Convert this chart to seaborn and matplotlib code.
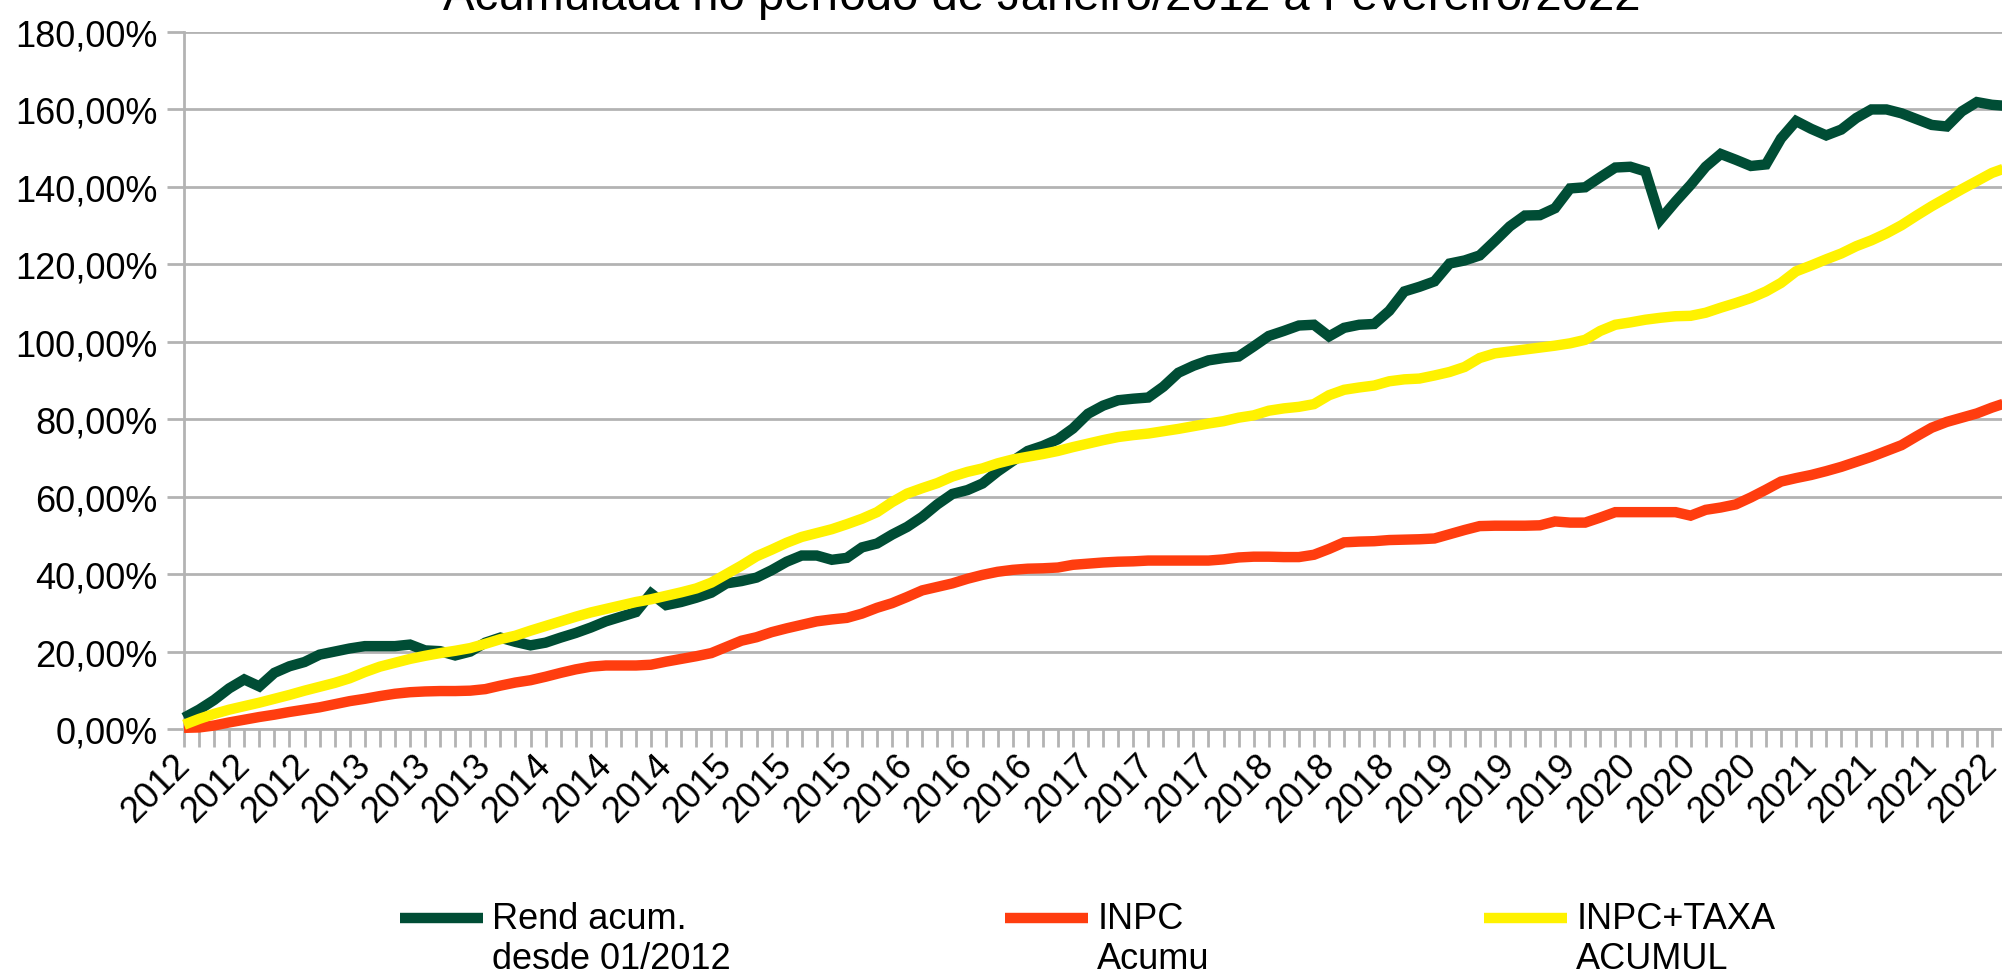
import numpy as np
import pandas as pd
import matplotlib
matplotlib.use("Agg")
import matplotlib.pyplot as plt
import seaborn as sns
from matplotlib.ticker import FuncFormatter, MultipleLocator
from matplotlib.lines import Line2D
from matplotlib.legend_handler import HandlerLine2D

# -----------------------------
# 1. Dados (mensal jan/2012 a fev/2022)
# -----------------------------
rend_acum = [
    2.9, 5.0, 7.5, 10.5, 12.8, 11.0, 14.5, 16.2, 17.3, 19.2, 20.0, 20.8,
    21.4, 21.4, 21.4, 21.8, 20.3, 20.1, 19.0, 20.0, 22.3, 23.6, 22.5, 21.6,
    22.3, 23.6, 24.8, 26.2, 27.8, 29.0, 30.2, 35.0, 32.0, 32.8, 33.9, 35.2,
    37.6, 38.2, 39.1, 41.0, 43.2, 44.8, 44.8, 43.7, 44.2, 46.9, 47.9, 50.2,
    52.2, 54.8, 58.0, 60.7, 61.7, 63.4, 66.5, 69.2, 71.8, 73.1, 74.8, 77.6,
    81.4, 83.5, 84.9, 85.3, 85.6, 88.4, 92.0, 93.8, 95.2, 95.8, 96.2, 98.8,
    101.5, 102.8, 104.2, 104.4, 101.4, 103.6, 104.4, 104.6, 108.0, 113.0, 114.2, 115.6,
    120.2, 121.0, 122.3, 126.0, 129.8, 132.6, 132.7, 134.5, 139.6, 139.9, 142.5, 145.0,
    145.2, 144.0, 131.6, 136.2, 140.5, 145.2, 148.5, 147.0, 145.4, 145.8, 152.5, 157.0,
    155.0, 153.3, 154.8, 157.8, 160.0, 160.0, 159.0, 157.5, 156.0, 155.6, 159.5, 161.9,
    161.2, 160.9,
]

inpc_acum = [
    0.3, 0.4, 0.9, 1.7, 2.4, 3.1, 3.7, 4.4, 5.0, 5.6, 6.4, 7.2,
    7.8, 8.5, 9.1, 9.5, 9.7, 9.8, 9.8, 9.9, 10.3, 11.2, 12.0, 12.6,
    13.5, 14.5, 15.4, 16.1, 16.4, 16.4, 16.4, 16.6, 17.4, 18.1, 18.8, 19.6,
    21.2, 22.8, 23.7, 25.0, 26.0, 26.9, 27.8, 28.3, 28.7, 29.8, 31.3, 32.5,
    34.1, 35.8, 36.7, 37.6, 38.8, 39.8, 40.6, 41.1, 41.4, 41.5, 41.7, 42.4,
    42.7, 43.0, 43.2, 43.3, 43.5, 43.5, 43.5, 43.5, 43.5, 43.8, 44.3, 44.5,
    44.5, 44.4, 44.4, 45.0, 46.5, 48.2, 48.4, 48.5, 48.8, 48.9, 49.0, 49.2,
    50.3, 51.4, 52.4, 52.5, 52.5, 52.5, 52.6, 53.6, 53.3, 53.3, 54.6, 56.0,
    56.0, 56.0, 56.0, 56.0, 55.1, 56.6, 57.2, 58.0, 59.8, 61.8, 63.9, 64.8,
    65.6, 66.6, 67.7, 69.0, 70.3, 71.8, 73.3, 75.6, 77.8, 79.3, 80.4, 81.5,
    83.0, 84.3,
]

inpc_taxa = [
    1.1, 2.6, 3.9, 5.0, 5.9, 6.8, 7.8, 8.8, 9.9, 10.9, 11.9, 13.1,
    14.7, 16.1, 17.1, 18.1, 18.9, 19.6, 20.2, 20.9, 22.0, 23.2, 24.1, 25.4,
    26.6, 27.8, 29.0, 30.1, 31.0, 31.9, 32.8, 33.5, 34.4, 35.3, 36.3, 37.8,
    40.0, 42.2, 44.6, 46.3, 48.1, 49.6, 50.6, 51.6, 52.9, 54.3, 56.0, 58.6,
    60.8, 62.2, 63.5, 65.2, 66.4, 67.3, 68.6, 69.6, 70.3, 71.0, 71.8, 72.8,
    73.7, 74.6, 75.4, 75.9, 76.3, 76.9, 77.5, 78.2, 78.9, 79.5, 80.4, 81.0,
    82.2, 82.8, 83.2, 83.9, 86.2, 87.6, 88.2, 88.7, 89.8, 90.3, 90.5, 91.3,
    92.2, 93.5, 95.8, 97.0, 97.5, 98.0, 98.5, 99.0, 99.6, 100.5, 102.8, 104.4,
    105.0, 105.7, 106.2, 106.6, 106.7, 107.5, 108.8, 110.0, 111.3, 113.0, 115.2, 118.2,
    119.7, 121.3, 122.8, 124.7, 126.2, 128.0, 130.1, 132.6, 135.0, 137.2, 139.4, 141.5,
    143.6, 145.0,
]

rotulos_x = [
    "2012", "2012", "2012", "2013", "2013", "2013", "2014", "2014", "2014",
    "2015", "2015", "2015", "2016", "2016", "2016", "2017", "2017", "2017",
    "2018", "2018", "2018", "2019", "2019", "2019", "2020", "2020", "2020",
    "2021", "2021", "2021", "2022",
]

series = ["Rend acum.\ndesde 01/2012", "INPC\nAcumu", "INPC+TAXA\nACUMUL"]
cores = ["#004d35", "#ff3d0f", "#fff200"]

titulo = "Acumulada no período de Janeiro/2012 a Fevereiro/2022"

# -----------------------------
# 2. Tabela longa para o seaborn
# -----------------------------
meses = np.arange(len(rend_acum))
df = pd.DataFrame({
    "mes": np.tile(meses, 3),
    "valor": rend_acum + inpc_acum + inpc_taxa,
    "serie": np.repeat(series, len(meses)),
})

# -----------------------------
# 3. Estilo
# -----------------------------
sns.set_theme(style="white")
plt.rcParams["font.family"] = ["Liberation Sans", "DejaVu Sans"]
plt.rcParams["text.color"] = "black"
plt.rcParams["xtick.labelcolor"] = "black"
plt.rcParams["ytick.labelcolor"] = "black"
cinza = "#b3b3b3"
espessura = 7.5


class LinhaNoTopo(HandlerLine2D):
    # coloca o traco da legenda na altura da primeira linha do texto
    def create_artists(self, legend, orig_handle, xdescent, ydescent,
                       width, height, fontsize, trans):
        arts = super().create_artists(legend, orig_handle, xdescent, ydescent,
                                      width, height, fontsize, trans)
        for a in arts:
            a.set_ydata(np.asarray(a.get_ydata(), float) + 0.6 * fontsize)
            a.set_solid_capstyle("butt")
        return arts


fig = plt.figure(figsize=(20.02, 9.79), dpi=100)
ax = fig.add_axes([184 / 2002, 249 / 979, 1823 / 2002, 697 / 979])

sns.lineplot(data=df, x="mes", y="valor", hue="serie", palette=cores,
             linewidth=espessura, legend=False, ax=ax)
for ln in ax.lines:
    ln.set_clip_on(False)
    ln.set_solid_joinstyle("miter")
    ln.set_solid_capstyle("butt")

ax.set_xlim(0, len(meses) - 1)
ax.set_ylim(0, 180)
ax.set_yticks(range(0, 181, 20))
ax.yaxis.set_major_formatter(FuncFormatter(lambda v, p: f"{v:.2f}".replace(".", ",") + "%"))
ax.set_xticks(range(0, len(meses), 4))
ax.set_xticklabels(rotulos_x, rotation=45, ha="right", va="center",
                   rotation_mode="anchor")
ax.xaxis.set_minor_locator(MultipleLocator(1))
ax.set_xlabel("")
ax.set_ylabel("")

ax.yaxis.grid(True, color=cinza, linewidth=2)
ax.xaxis.grid(False)
for lado in ["top", "right"]:
    ax.spines[lado].set_visible(False)
for lado in ["left", "bottom"]:
    ax.spines[lado].set_color(cinza)
    ax.spines[lado].set_linewidth(2)
    ax.spines[lado].set_zorder(0.5)

ax.tick_params(axis="x", which="both", bottom=True, length=13, width=2,
               color=cinza, direction="out", labelsize=26, pad=9)
ax.tick_params(axis="y", left=True, length=12, width=2, color=cinza,
               direction="out", labelsize=26, pad=7)

fig.text(1042 / 2002, 1 - 10 / 979, titulo, ha="center", va="baseline",
         fontsize=34)

alcas = [Line2D([], [], color=c, linewidth=espessura) for c in cores]
fig.legend(alcas, series, loc="upper left", bbox_to_anchor=(400 / 2002, 1 - 902 / 979),
           ncol=3, frameon=False, fontsize=26, handlelength=2.3,
           handletextpad=0.25, columnspacing=7.6, borderpad=0,
           borderaxespad=0, labelspacing=0.2,
           handler_map={Line2D: LinhaNoTopo()})

fig.savefig("out.png", dpi=100)
